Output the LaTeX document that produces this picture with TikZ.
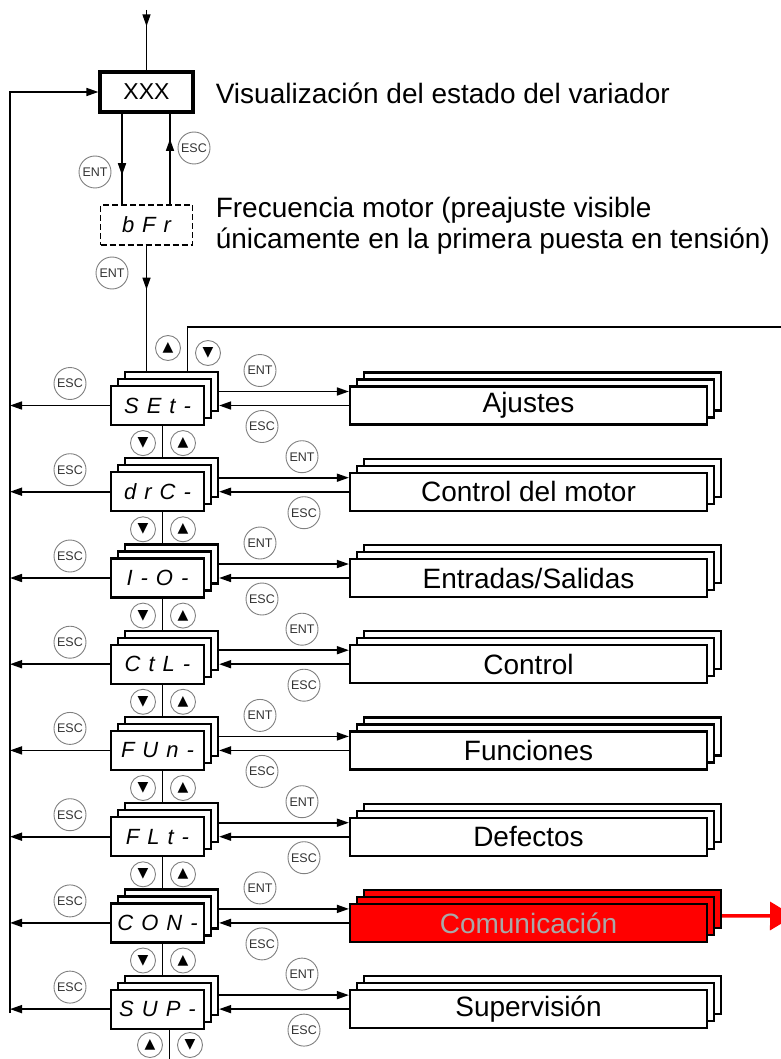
\documentclass[tikz,border=0pt]{standalone}
\usepackage{fontspec}
\setmainfont{Liberation Sans}
\newfontfamily\symfont{DejaVu Sans}
\usetikzlibrary{arrows.meta,positioning,shadows,decorations.markings}
\definecolor{Signal}{HTML}{FF0000}
\definecolor{Ring}{HTML}{808080}
\definecolor{Ghost}{HTML}{A8A8A8}

\newcommand{\gap}{\hspace{8pt}}

\begin{document}
\begin{tikzpicture}[x=1pt, y=-1pt,
    line width=1.6pt,
    arrow/.style={-{Triangle[length=12pt,width=8pt]}},
    midarrow/.style={postaction={decorate}, decoration={markings,
      mark=at position #1 with {\arrow{Triangle[length=12pt,width=8pt]}}}},
    stackbox/.style={draw, fill=#1, line width=2.2pt, inner sep=0pt,
      general shadow={shadow xshift=14pt, shadow yshift=14pt, fill=#1, draw, line width=2.2pt},
      general shadow={shadow xshift=7pt, shadow yshift=7pt, fill=#1, draw, line width=2.2pt}},
    stackbox/.default=white,
    menu/.style={stackbox, minimum width=93pt, minimum height=39pt,
      font=\fontsize{22}{22}\selectfont\itshape},
    panel/.style={stackbox=#1, minimum width=357pt, minimum height=38pt,
      font=\fontsize{28}{30}\selectfont},
    btn/.style={circle, draw=Ring, line width=0.9pt, minimum size=32pt, inner sep=0pt,
      text=black!80, font=\fontsize{12.5}{12.5}\selectfont},
    arrbtn/.style={circle, draw=Ring, line width=0.9pt, minimum size=25pt, inner sep=0pt,
      font=\symfont\fontsize{14}{14}\selectfont},
    note/.style={anchor=west, align=left, inner sep=0pt, font=\fontsize{28}{31}\selectfont}
  ]
  \useasboundingbox (0,0) rectangle (780,1059);

  % drive state and first power-up
  \node[draw, line width=3.2pt, minimum width=93pt, minimum height=40pt, inner sep=0pt,
    font=\fontsize{23}{23}\selectfont] (xxx) at (146.5,92) {XXX};
  \node[note] (state) at (215,93) {Visualización del estado del variador};
  \node[draw, dashed, dash pattern=on 6pt off 3pt, minimum width=92pt, minimum height=40pt,
    inner sep=0pt, font=\fontsize{22}{22}\selectfont\itshape] (bfr) at (146.5,225) {b\gap F\gap r};
  \node[note] (freq) at (215,226) {Frecuencia motor (preajuste visible\\únicamente en la primera puesta en tensión)};

  \coordinate (feed) at (146.5,10);
  \coordinate (bus) at (10,1013);
  \draw[midarrow=0.27] (feed) -- (xxx.north);
  \draw[midarrow=0.68] ([xshift=-24.5pt]xxx.south) -- ([xshift=-24.5pt]bfr.north);
  \draw[midarrow=0.72] ([xshift=23.5pt]bfr.north) -- ([xshift=23.5pt]xxx.south);
  \node[btn] (ent0) at (95,172) {ENT};
  \node[btn] (esc0) at (194,148) {ESC};
  \draw[arrow] (bus) |- (xxx.west);

  % menus
  \foreach \i/\disp/\lbl/\fc/\tc/\y in {
      1/{S\gap E\gap t\gap -}/Ajustes/white/black/405.5,
      2/{d\gap r\gap C\gap -}/Control del motor/white/black/491.7,
      3/{I\gap -\gap O\gap -}/{Entradas/Salidas}/white/black/578,
      4/{C\gap t\gap L\gap -}/Control/white/black/664.2,
      5/{F\gap U\gap n\gap -}/Funciones/white/black/750.4,
      6/{F\gap L\gap t\gap -}/Defectos/white/black/836.7,
      7/{C\gap O\gap N\gap -}/Comunicación/Signal/Ghost/922.9,
      8/{S\gap U\gap P\gap -}/Supervisión/white/black/1009.1} {
    \pgfmathsetmacro{\ex}{ifthenelse(mod(\i,2)==1,260,302)}
    \node[menu] (m\i) at (157.5,\y) {\disp};
    \node[panel=\fc, text=\tc] (p\i) at (528.5,\y) {\lbl};
    \draw[arrow] ([xshift=14pt,yshift=14pt]m\i.east) -- ([yshift=14pt]p\i.west);
    \draw[arrow] (p\i.west) -- ([xshift=14pt]m\i.east);
    \draw[arrow] (m\i.west) -- (m\i.west -| bus);
    \node[btn] at (70,\y-22) {ESC};
    \node[btn] at (\ex,\y-35) {ENT};
    \node[btn] at (\ex+2,\y+21) {ESC};
  }

  % up / down between menus
  \foreach \i [evaluate=\i as \j using int(\i+1)] in {1,...,7} {
    \draw ([xshift=5pt]m\i.south) -- ([xshift=5pt,yshift=14pt]m\j.north);
    \node[arrbtn] at ([xshift=-14.5pt,yshift=-17pt]m\i.south) {▼};
    \node[arrbtn] at ([xshift=25.5pt,yshift=-17pt]m\i.south) {▲};
  }

  % entry into the menu loop
  \coordinate (m1top) at ([yshift=14pt]m1.north);
  \coordinate (loop) at (781,327);
  \draw[midarrow=0.35] (bfr.south) -- (bfr.south |- m1top);
  \node[btn] (ent1) at (112,273) {ENT};
  \draw ([xshift=30pt]m1top) |- (loop);
  \node[arrbtn] at (168,348) {▲};
  \node[arrbtn] at (208,353) {▼};

  \coordinate (tail) at (169.5,1062);
  \draw ([xshift=12pt]m8.south) -- (tail);
  \node[arrbtn] at (150,1045) {▲};
  \node[arrbtn] at (190,1045) {▼};

  % communication menu continues
  \coordinate (out) at (794,916);
  \draw[draw=Signal, line width=3.5pt, -{Triangle[length=24pt,width=28pt]}]
    ([xshift=14pt,yshift=7pt]p7.east) -- (out);
\end{tikzpicture}
\end{document}
